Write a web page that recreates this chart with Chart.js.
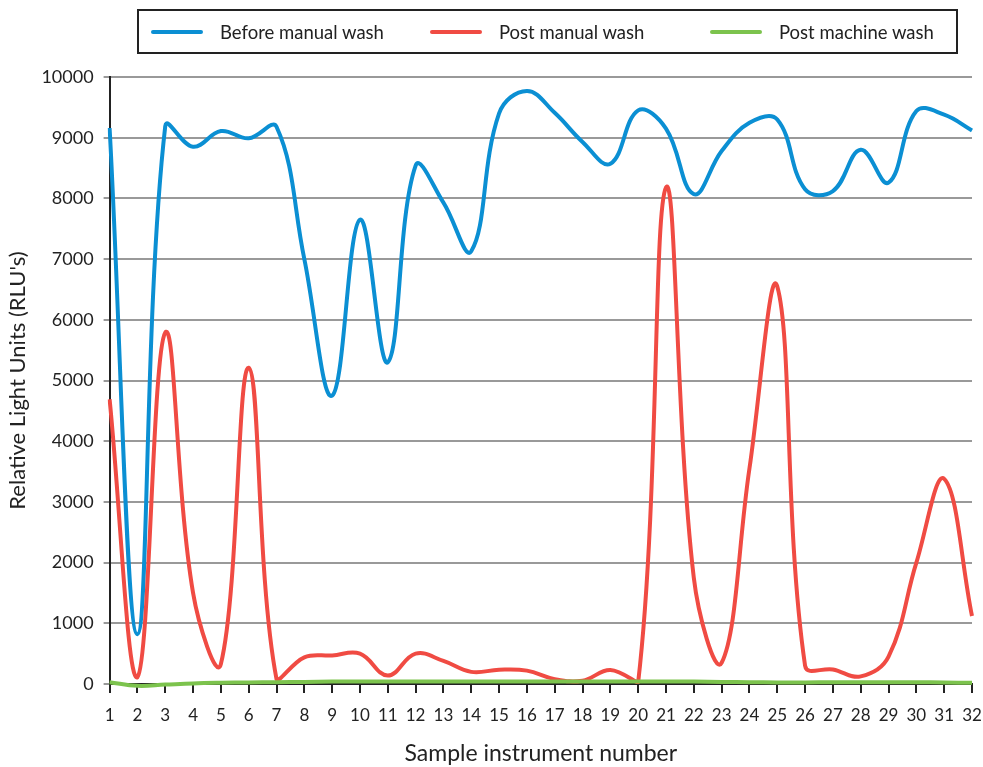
<!DOCTYPE html>
<html>
<head>
<meta charset="utf-8">
<script src="https://cdn.jsdelivr.net/npm/chart.js@4.4.0/dist/chart.umd.min.js"></script>
<style>
  html, body { margin: 0; padding: 0; background: #fff; }
  #wrap { position: relative; width: 983px; height: 767px; }
  #legend {
    position: absolute; left: 137px; top: 9px; width: 817px; height: 41px;
    border: 2px solid #222; box-sizing: content-box;
    font-family: "Lato", "Liberation Sans", sans-serif; font-size: 18.5px; color: #222;
  }
  #legend .item { position: absolute; top: 0; height: 41px; display: flex; align-items: center; }
  #legend .swatch { width: 52px; height: 4px; border-radius: 2px; margin-right: 17px; }
</style>
</head>
<body>
<div id="wrap">
  <canvas id="myChart" width="983" height="767"></canvas>
  <div id="legend"></div>
</div>
<script>
// サンプル番号
var instruments = ['1','2','3','4','5','6','7','8','9','10','11','12','13','14','15','16',
                   '17','18','19','20','21','22','23','24','25','26','27','28','29','30','31','32'];

// 各系列の値 (RLU)
var beforeManual = [9160, 820, 9190, 8850, 9110, 8990, 9180, 7000, 4750, 7650, 5300, 8540, 7930, 7130, 9400, 9770,
                    9410, 8930, 8570, 9450, 9150, 8070, 8780, 9245, 9300, 8150, 8120, 8800, 8260, 9440, 9380, 9120];
var postManual = [4690, 110, 5790, 1500, 330, 5210, 80, 440, 470, 500, 140, 500, 380, 200, 235, 220,
                  80, 55, 230, 30, 8180, 1750, 350, 3550, 6550, 300, 240, 125, 450, 2000, 3380, 1120];
var postMachine = [30, -30, -10, 10, 20, 25, 30, 35, 40, 40, 40, 40, 40, 40, 40, 40,
                   40, 40, 40, 40, 40, 40, 35, 30, 25, 25, 30, 30, 30, 30, 25, 20];

var seriesNames = ['Before manual wash', 'Post manual wash', 'Post machine wash'];
var seriesColors = ['#0b8fd3', '#f04b43', '#7cc34d'];

// y軸の目盛り
var yTicks = [0, 1000, 2000, 3000, 4000, 5000, 6000, 7000, 8000, 9000, 10000];

var fontFamily = '"Lato", "Liberation Sans", sans-serif';

document.addEventListener('DOMContentLoaded', function() {
    var ctx = document.getElementById('myChart').getContext('2d');
    var values = [beforeManual, postManual, postMachine];

    var datasets = values.map(function(v, i) {
        return {
            label: seriesNames[i],
            data: v,
            borderColor: seriesColors[i],
            backgroundColor: seriesColors[i],
            borderWidth: 4,
            pointRadius: 0,
            tension: 0.4,
            fill: false,
            clip: i === 2 ? false : undefined
        };
    });
    // 描画順: 緑 → 赤 → 青 のように重ねる
    datasets[0].order = 3;
    datasets[1].order = 2;
    datasets[2].order = 1;

    var myChart = new Chart(ctx, {
        type: 'line',
        data: { labels: instruments, datasets: datasets },
        options: {
            responsive: false,
            animation: false,
            layout: { padding: { top: 77, right: 0, left: 5, bottom: 0 } },
            plugins: {
                legend: { display: false },
                tooltip: { enabled: false }
            },
            scales: {
                x: {
                    offset: false,
                    afterFit: function(scale) {
                        // 右端の余白を詰める
                        scale.paddingRight = 11;
                        scale.paddingLeft = 0;
                    },
                    grid: { drawOnChartArea: false, color: '#222', lineWidth: 2, tickLength: 9 },
                    border: { color: '#222', width: 2 },
                    ticks: { color: '#222', font: { family: fontFamily, size: 17 }, padding: 12, maxRotation: 0, autoSkip: false },
                    title: {
                        display: true, text: 'Sample instrument number', color: '#222',
                        font: { family: fontFamily, size: 23 }, padding: { top: 2, bottom: 0 }
                    }
                },
                y: {
                    min: 0, max: 10000,
                    afterBuildTicks: function(axis) {
                        axis.ticks = yTicks.map(function(t) { return { value: t }; });
                    },
                    grid: { color: '#999', lineWidth: 2, tickLength: 6 },
                    border: { color: '#222', width: 2 },
                    ticks: {
                        color: '#222', font: { family: fontFamily, size: 18 }, padding: 10,
                        callback: function(v) { return String(v); }
                    },
                    title: {
                        display: true, text: "Relative Light Units (RLU's)", color: '#222',
                        font: { family: fontFamily, size: 22 }, padding: { top: 0, bottom: 0 }
                    }
                }
            }
        }
    });

    // 凡例を作る
    var legend = document.getElementById('legend');
    var itemLeft = [12, 291, 571];
    seriesNames.forEach(function(name, i) {
        var item = document.createElement('div');
        item.className = 'item';
        item.style.left = itemLeft[i] + 'px';
        var sw = document.createElement('span');
        sw.className = 'swatch';
        sw.style.background = seriesColors[i];
        var tx = document.createElement('span');
        tx.textContent = name;
        item.appendChild(sw);
        item.appendChild(tx);
        legend.appendChild(item);
    });
});
</script>
</body>
</html>
